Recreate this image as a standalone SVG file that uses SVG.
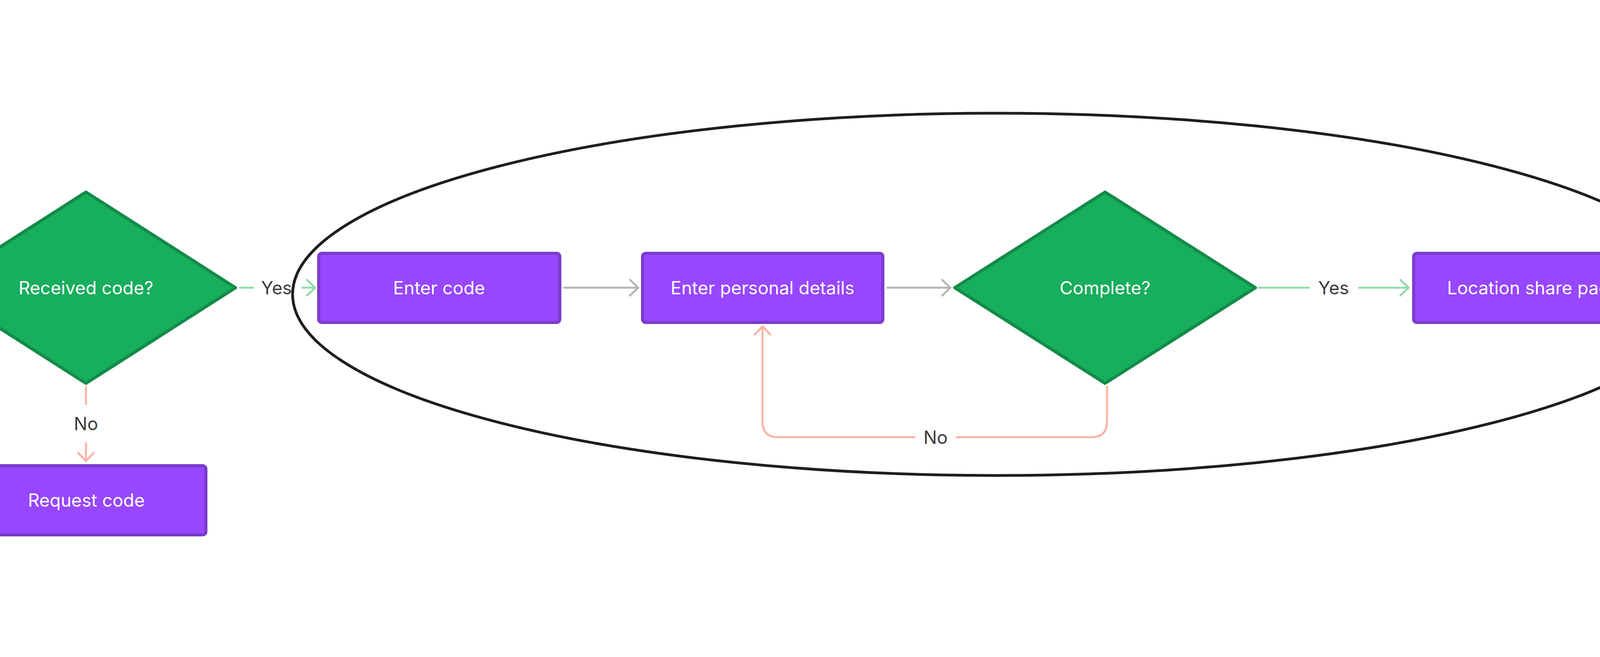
<svg xmlns="http://www.w3.org/2000/svg" width="4975" height="1683" viewBox="0 0 4975 1683">
<style>
.dia{fill:#17ae5c;stroke:#128b49;stroke-width:8;stroke-linejoin:round}
.box{fill:#9747ff;stroke:#7b3ccb;stroke-width:8}
.nt{font-family:Inter,"Liberation Sans",sans-serif;font-size:46px;fill:#ffffff;text-anchor:middle}
.lt{font-family:Inter,"Liberation Sans",sans-serif;font-size:46px;fill:#3c3c3c;text-anchor:middle}
.c{fill:none;stroke-width:5;stroke-linecap:round;stroke-linejoin:round}
.g{stroke:#8edba8}
.k{stroke:#b3b3b3}
.r{stroke:#ffb1a4}
</style>
<defs>
<marker id="ag" viewBox="-30 -30 40 60" refX="0" refY="0" markerWidth="40" markerHeight="60" markerUnits="userSpaceOnUse" orient="auto" overflow="visible"><path d="M-21,-20 L0,0 L-21,20" fill="none" stroke="#8edba8" stroke-width="5" stroke-linecap="round" stroke-linejoin="round"/></marker>
<marker id="ak" viewBox="-30 -30 40 60" refX="0" refY="0" markerWidth="40" markerHeight="60" markerUnits="userSpaceOnUse" orient="auto" overflow="visible"><path d="M-21,-20 L0,0 L-21,20" fill="none" stroke="#b3b3b3" stroke-width="5" stroke-linecap="round" stroke-linejoin="round"/></marker>
<marker id="ar" viewBox="-30 -30 40 60" refX="0" refY="0" markerWidth="40" markerHeight="60" markerUnits="userSpaceOnUse" orient="auto" overflow="visible"><path d="M-21,-20 L0,0 L-21,20" fill="none" stroke="#ffb1a4" stroke-width="5" stroke-linecap="round" stroke-linejoin="round"/></marker>
</defs>
<rect width="4975" height="1683" fill="#ffffff"/>

<g id="connectors">
  <path class="c g" d="M614,737 H648"/>
  <path class="c g" d="M774,737 H807" marker-end="url(#ag)"/>
  <text class="lt" x="708" y="754">Yes</text>
  <path class="c k" d="M1444,737 H1634" marker-end="url(#ak)"/>
  <path class="c k" d="M2272,737 H2433" marker-end="url(#ak)"/>
  <path class="c g" d="M3223,737 H3351"/>
  <path class="c g" d="M3480,737 H3606" marker-end="url(#ag)"/>
  <text class="lt" x="3414" y="754">Yes</text>
  <path class="c k" d="M4247,737 H4344" marker-end="url(#ak)"/>
  <path class="c r" d="M220,991 V1035"/>
  <path class="c r" d="M220,1135 V1181" marker-end="url(#ar)"/>
  <text class="lt" x="220" y="1102">No</text>
  <path class="c r" d="M2834,990 V1080 Q2834,1120 2794,1120 H2449"/>
  <path class="c r" d="M2341,1120 H1992 Q1952,1120 1952,1080 V836" marker-end="url(#ar)"/>
  <text class="lt" x="2395" y="1137">No</text>
  <path class="c r" d="M4738,992 V1050 Q4738,1096 4784,1096 H4980"/>
</g>

<g id="group-ellipse">
  <ellipse cx="2551" cy="754" rx="1802" ry="464" fill="none" stroke="#1e1e1e" stroke-width="7"/>
</g>

<g id="node-received-code">
  <polygon class="dia" points="220,492 603,737 220,982 -163,737"/>
  <text class="nt" x="220" y="754">Received code?</text>
</g>

<g id="node-request-code">
  <rect class="box" x="-90" y="1193" width="617" height="177" rx="8"/>
  <text class="nt" x="221" y="1298">Request code</text>
</g>

<g id="node-enter-code">
  <rect class="box" x="816" y="649" width="617" height="177" rx="8"/>
  <text class="nt" x="1124" y="754">Enter code</text>
</g>

<g id="node-enter-personal-details">
  <rect class="box" x="1645" y="649" width="615" height="177" rx="8"/>
  <text class="nt" x="1952" y="754">Enter personal details</text>
</g>

<g id="node-complete">
  <polygon class="dia" points="2829,492 3214,737 2829,982 2444,737"/>
  <text class="nt" x="2829" y="754">Complete?</text>
</g>

<g id="node-location-share-page">
  <rect class="box" x="3619" y="649" width="616" height="177" rx="8"/>
  <text class="nt" x="3926" y="754">Location share page</text>
</g>

<g id="node-allow-location">
  <polygon class="dia" points="4738,492 5122,737 4738,982 4354,737"/>
  <text class="nt" x="4736" y="719">Allow location</text>
  <text class="nt" x="4736" y="790">services?</text>
</g>
</svg>
